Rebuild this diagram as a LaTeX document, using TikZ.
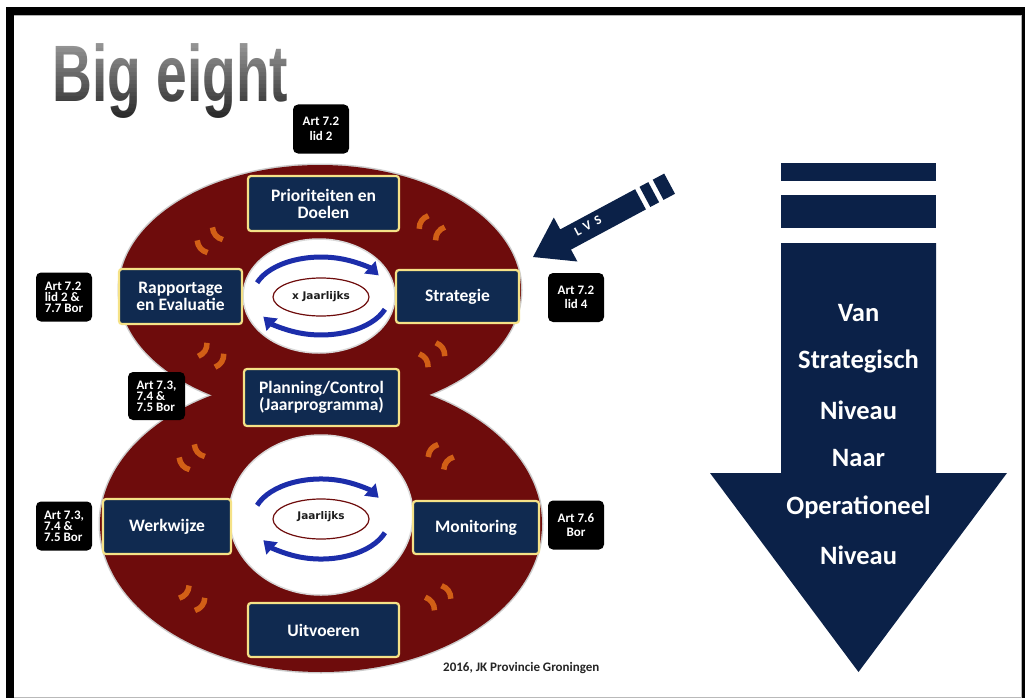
\documentclass[tikz,border=0pt]{standalone}
\usepackage{fontspec}
\usepackage{graphicx}
\usetikzlibrary{arrows.meta}
\newfontfamily\calfont{Carlito}
\newfontfamily\lvsfont{Carlito}[LetterSpace=40]
\newfontfamily\titfont{Liberation Sans}
\newfontfamily\dvfont{DejaVu Sans}
\definecolor{ringred}{RGB}{110,12,12}
\definecolor{navyfill}{RGB}{16,42,80}
\definecolor{goldedge}{RGB}{245,226,135}
\definecolor{navyarrow}{RGB}{11,33,72}
\definecolor{orangemk}{RGB}{210,95,22}
\definecolor{bluearc}{RGB}{28,45,170}
\definecolor{titlegray}{RGB}{28,28,28}
\newcommand\omark[4]{\draw[omk] ({#1-8*(#3)},{#2-8*(#4)}) to[bend left=35] ({#1+8*(#3)},{#2+8*(#4)});}
\newcommand\opair[6]{\omark{#1+10*(#5)}{#2+10*(#6)}{#3}{#4}\omark{#1-10*(#5)}{#2-10*(#6)}{#3}{#4}}
\begin{document}
\begin{tikzpicture}[x=1pt,y=-1pt,
  navybox/.style={draw=goldedge, line width=2.2pt, fill=navyfill, rounded corners=3pt,
    text=white, font=\calfont\bfseries\fontsize{17.5}{17}\selectfont, align=center, inner sep=0pt},
  artbox/.style={fill=black, rounded corners=5pt, text=white, inner sep=0pt,
    minimum width=56pt, minimum height=49pt, align=center,
    font=\calfont\bfseries\fontsize{13}{14.5}\selectfont},
  artboxthree/.style={artbox, align=left, font=\calfont\bfseries\fontsize{13}{11}\selectfont},
  omk/.style={draw=orangemk, line width=5.5pt, line cap=butt},
  bluearr/.style={draw=bluearc, line width=5pt, -{Triangle[width=16pt,length=12pt]}},
  arrowtext/.style={text=white, font=\calfont\bfseries\fontsize{26.5}{26.5}\selectfont}]
\useasboundingbox (0,0) rectangle (1025,698);
\fill[white] (0,0) rectangle (1025,698);
% frame
\fill[black] (6,7) rectangle (1025,15);
\fill[black] (6,7) rectangle (14,698);
\fill[black] (1022,7) rectangle (1025,698);
\fill[gray!60] (14,15) rectangle (1022,16);
\fill[gray!60] (1021,15) rectangle (1022,698);
\fill[gray!55] (14,696.5) rectangle (1022,698);
% title
\node[anchor=base west, inner sep=0pt, text=titlegray] (title) at (52,102)
  {\titfont\bfseries\fontsize{80}{80}\selectfont\scalebox{0.69}[1]{Big eight}};
\foreach \i in {0,...,21} {
  \fill[white, fill opacity={0.55*(1-\i/21)}] (40,{40+\i*4}) rectangle (300,{44+\i*4});
}
% figure eight
\draw[gray!40, line width=3pt] (320,290) ellipse [x radius=201, y radius=125];
\draw[gray!40, line width=3pt] (321,524) ellipse [x radius=221, y radius=148];
\fill[ringred] (320,290) ellipse [x radius=201, y radius=125];
\fill[ringred] (321,524) ellipse [x radius=221, y radius=148];
\fill[white, draw=gray!30, line width=1.5pt] (319,296) ellipse [x radius=76, y radius=57];
\fill[white, draw=gray!30, line width=1.5pt] (321,515) ellipse [x radius=92, y radius=80];
% orange marks
\opair{210}{240}{-0.648}{-0.762}{0.762}{-0.648}
\opair{432}{228}{0.573}{-0.820}{0.820}{0.573}
\opair{211}{355}{-0.544}{0.839}{0.839}{0.544}
\opair{432}{355}{0.554}{0.832}{-0.832}{0.554}
\opair{192}{457}{-0.654}{-0.757}{0.757}{-0.654}
\opair{441}{457}{0.626}{-0.780}{0.780}{0.626}
\opair{192}{598}{-0.616}{0.788}{0.788}{0.616}
\opair{438}{598}{0.578}{0.816}{-0.816}{0.578}
% cycle arrows
\draw[bluearr] (257.1,282.7) arc[start angle=200, end angle=328, x radius=68, y radius=39];
\draw[bluearr] (384.9,309.3) arc[start angle=20, end angle=148, x radius=68, y radius=39];
\draw[bluearr] (257.1,505.3) arc[start angle=200, end angle=328, x radius=68, y radius=40];
\draw[bluearr] (384.9,532.7) arc[start angle=20, end angle=148, x radius=68, y radius=40];
\fill[white, draw=ringred, line width=1.2pt] (321,297) ellipse [x radius=48, y radius=19];
\fill[white, draw=ringred, line width=1.2pt] (321,519) ellipse [x radius=48, y radius=20];
\node[text=titlegray, font=\dvfont\bfseries\fontsize{10.5}{10.5}\selectfont] (jaar1) at (321,297) {x Jaarlijks};
\node[text=titlegray, font=\dvfont\bfseries\fontsize{10.5}{10.5}\selectfont] (jaar2) at (321,517) {Jaarlijks};
% navy boxes
\node[navybox, minimum width=151pt, minimum height=55pt] (prio) at (323.5,203.5) {Prioriteiten en\\Doelen};
\node[navybox, minimum width=123pt, minimum height=55pt] (rapp) at (180.5,296.5) {Rapportage\\en Evaluatie};
\node[navybox, minimum width=123pt, minimum height=53pt] (strat) at (457.5,296.5) {Strategie};
\node[navybox, minimum width=155pt, minimum height=57pt] (plan) at (321.5,397.5) {Planning/Control\\(Jaarprogramma)};
\node[navybox, minimum width=128pt, minimum height=55pt] (werk) at (167,526.5) {Werkwijze};
\node[navybox, minimum width=126pt, minimum height=53pt] (moni) at (476,527.5) {Monitoring};
\node[navybox, minimum width=151pt, minimum height=54pt] (uitv) at (323.5,630) {Uitvoeren};
% article boxes
\node[artbox] (art1) at (321,129) {Art 7.2\\lid 2};
\node[artboxthree] (art2) at (64,297) {Art 7.2\\lid 2 \&\\7.7 Bor};
\node[artbox] (art3) at (576,297.5) {Art 7.2\\lid 4};
\node[artboxthree, minimum width=57pt, minimum height=48pt] (art4) at (156.5,396) {Art 7.3,\\7.4 \&\\7.5 Bor};
\node[artboxthree] (art5) at (64,526) {Art 7.3,\\7.4 \&\\7.5 Bor};
\node[artbox] (art6) at (576,525) {Art 7.6\\Bor};
% LVS arrow
\fill[navyarrow] (533,257) -- (577.4,261.5) -- (571.0,249.6) -- (645.9,209.4) -- (635.1,189.2) -- (560.2,229.4) -- (553.8,217.5) -- cycle;
\fill[navyarrow] (650.3,207.0) -- (659.1,202.3) -- (648.3,182.1) -- (639.5,186.8) -- cycle;
\fill[navyarrow] (663.5,199.9) -- (675.0,193.8) -- (664.2,173.6) -- (652.7,179.7) -- cycle;
\node[rotate=28, text=white, inner sep=0pt, font=\lvsfont\bfseries\fontsize{13}{13}\selectfont] (lvs) at (588,226) {LVS};
% big down arrow
\fill[navyarrow] (781,163) rectangle (936,181);
\fill[navyarrow] (781,195) rectangle (936,228);
\fill[navyarrow] (781,243) -- (936,243) -- (936,473) -- (1007,473) -- (858.5,672) -- (710,473) -- (781,473) -- cycle;
\node[arrowtext] (t1) at (858.5,313) {Van};
\node[arrowtext] (t2) at (858.5,361) {Strategisch};
\node[arrowtext] (t3) at (858.5,410) {Niveau};
\node[arrowtext] (t4) at (858.5,458) {Naar};
\node[arrowtext] (t5) at (858.5,507) {Operationeel};
\node[arrowtext] (t6) at (858.5,555) {Niveau};
% footer
\node[anchor=west, inner sep=0pt, text=black!85, font=\calfont\bfseries\fontsize{13}{13}\selectfont] (foot) at (443,668) {2016, JK Provincie Groningen};
\end{tikzpicture}
\end{document}
